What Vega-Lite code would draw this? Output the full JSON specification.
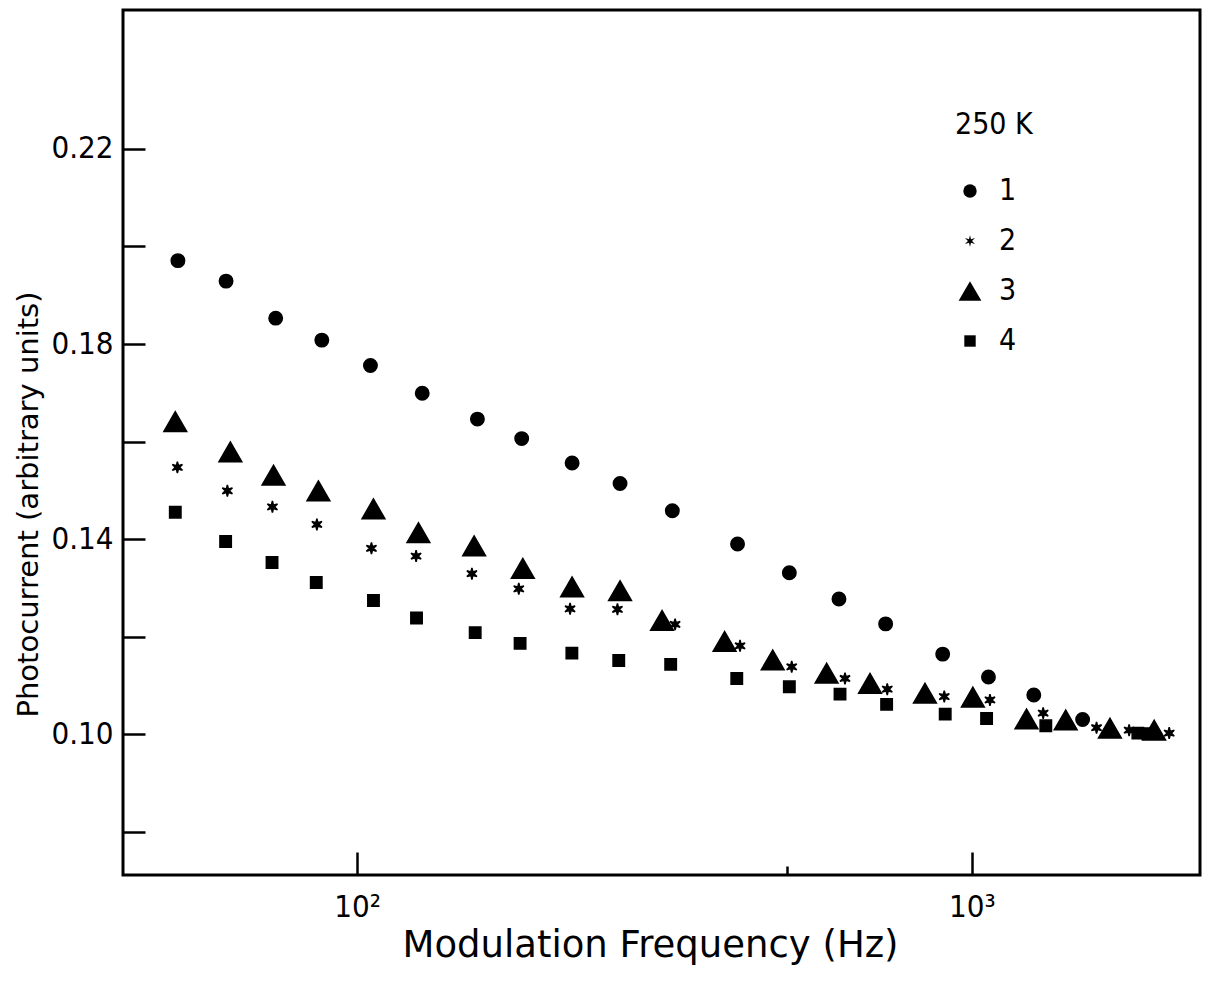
{
  "$schema": "https://vega.github.io/schema/vega-lite/v6.json",
  "autosize": "none",
  "padding": {"left": 123, "top": 10, "right": 12, "bottom": 116},
  "width": 1077,
  "height": 865,
  "background": "white",
  "config": {
    "view": {"stroke": "black", "strokeWidth": 3},
    "axis": {
      "domain": false,
      "grid": false,
      "tickColor": "black",
      "tickWidth": 2.5,
      "labelColor": "black",
      "labelFont": "DejaVu Sans Condensed, Liberation Sans Narrow, DejaVu Sans",
      "labelFontSize": 31,
      "titleColor": "black",
      "titleFont": "DejaVu Sans",
      "titleFontWeight": "normal"
    },
    "legend": {
      "orient": "none",
      "legendX": 832,
      "legendY": 100,
      "padding": 0,
      "titleFont": "DejaVu Sans Condensed, Liberation Sans Narrow, DejaVu Sans",
      "titleFontSize": 30,
      "titleFontWeight": "normal",
      "titleColor": "black",
      "titlePadding": 36,
      "labelFont": "DejaVu Sans Condensed, Liberation Sans Narrow, DejaVu Sans",
      "labelFontSize": 30,
      "labelColor": "black",
      "labelOffset": 14,
      "rowPadding": 20,
      "symbolFillColor": "black",
      "symbolStrokeColor": "black",
      "symbolStrokeWidth": 1.5
    }
  },
  "data": {
    "values": [
      {"f": 51.1, "v": 0.1971, "s": "1"},
      {"f": 61.2, "v": 0.1929, "s": "1"},
      {"f": 73.7, "v": 0.1853, "s": "1"},
      {"f": 87.6, "v": 0.1808, "s": "1"},
      {"f": 105.1, "v": 0.1756, "s": "1"},
      {"f": 127.6, "v": 0.1699, "s": "1"},
      {"f": 156.9, "v": 0.1646, "s": "1"},
      {"f": 185.2, "v": 0.1606, "s": "1"},
      {"f": 223.7, "v": 0.1556, "s": "1"},
      {"f": 267.7, "v": 0.1514, "s": "1"},
      {"f": 325.6, "v": 0.1458, "s": "1"},
      {"f": 415.7, "v": 0.1390, "s": "1"},
      {"f": 504.7, "v": 0.1331, "s": "1"},
      {"f": 607.8, "v": 0.1277, "s": "1"},
      {"f": 723.9, "v": 0.1226, "s": "1"},
      {"f": 896.4, "v": 0.1164, "s": "1"},
      {"f": 1064, "v": 0.1117, "s": "1"},
      {"f": 1261, "v": 0.1080, "s": "1"},
      {"f": 1514, "v": 0.1030, "s": "1"},
      {"f": 51.0, "v": 0.1547, "s": "2"},
      {"f": 61.5, "v": 0.1499, "s": "2"},
      {"f": 72.8, "v": 0.1466, "s": "2"},
      {"f": 86.0, "v": 0.1430, "s": "2"},
      {"f": 105.5, "v": 0.1381, "s": "2"},
      {"f": 124.7, "v": 0.1365, "s": "2"},
      {"f": 153.7, "v": 0.1329, "s": "2"},
      {"f": 183.2, "v": 0.1298, "s": "2"},
      {"f": 222.0, "v": 0.1257, "s": "2"},
      {"f": 265.1, "v": 0.1256, "s": "2"},
      {"f": 329.0, "v": 0.1225, "s": "2"},
      {"f": 419.6, "v": 0.1181, "s": "2"},
      {"f": 509.2, "v": 0.1138, "s": "2"},
      {"f": 621.7, "v": 0.1114, "s": "2"},
      {"f": 728.3, "v": 0.1092, "s": "2"},
      {"f": 901.7, "v": 0.1077, "s": "2"},
      {"f": 1070, "v": 0.1070, "s": "2"},
      {"f": 1306, "v": 0.1043, "s": "2"},
      {"f": 1595, "v": 0.1013, "s": "2"},
      {"f": 1802, "v": 0.1008, "s": "2"},
      {"f": 2094, "v": 0.1002, "s": "2"},
      {"f": 50.6, "v": 0.1641, "s": "3"},
      {"f": 62.2, "v": 0.1579, "s": "3"},
      {"f": 73.1, "v": 0.1531, "s": "3"},
      {"f": 86.5, "v": 0.1499, "s": "3"},
      {"f": 106.3, "v": 0.1462, "s": "3"},
      {"f": 125.8, "v": 0.1413, "s": "3"},
      {"f": 155.0, "v": 0.1386, "s": "3"},
      {"f": 186.0, "v": 0.1340, "s": "3"},
      {"f": 223.7, "v": 0.1302, "s": "3"},
      {"f": 267.7, "v": 0.1294, "s": "3"},
      {"f": 313.3, "v": 0.1233, "s": "3"},
      {"f": 396.0, "v": 0.1190, "s": "3"},
      {"f": 474.2, "v": 0.1152, "s": "3"},
      {"f": 580.3, "v": 0.1125, "s": "3"},
      {"f": 682.8, "v": 0.1104, "s": "3"},
      {"f": 838.8, "v": 0.1084, "s": "3"},
      {"f": 1003.7, "v": 0.1076, "s": "3"},
      {"f": 1227, "v": 0.1031, "s": "3"},
      {"f": 1421, "v": 0.1029, "s": "3"},
      {"f": 1677, "v": 0.1012, "s": "3"},
      {"f": 1979, "v": 0.1008, "s": "3"},
      {"f": 50.6, "v": 0.1455, "s": "4"},
      {"f": 61.1, "v": 0.1395, "s": "4"},
      {"f": 72.7, "v": 0.1352, "s": "4"},
      {"f": 85.8, "v": 0.1311, "s": "4"},
      {"f": 106.3, "v": 0.1274, "s": "4"},
      {"f": 124.9, "v": 0.1238, "s": "4"},
      {"f": 155.6, "v": 0.1208, "s": "4"},
      {"f": 184.1, "v": 0.1186, "s": "4"},
      {"f": 223.5, "v": 0.1166, "s": "4"},
      {"f": 266.4, "v": 0.1151, "s": "4"},
      {"f": 323.6, "v": 0.1143, "s": "4"},
      {"f": 414.5, "v": 0.1114, "s": "4"},
      {"f": 504.7, "v": 0.1097, "s": "4"},
      {"f": 610.2, "v": 0.1082, "s": "4"},
      {"f": 726.6, "v": 0.1061, "s": "4"},
      {"f": 904.9, "v": 0.1041, "s": "4"},
      {"f": 1056.6, "v": 0.1032, "s": "4"},
      {"f": 1319, "v": 0.1017, "s": "4"},
      {"f": 1862, "v": 0.1002, "s": "4"},
      {"f": 1933, "v": 0.1001, "s": "4"}
    ]
  },
  "mark": {"type": "point", "filled": true, "fill": "black", "stroke": "black", "strokeWidth": 1.5, "opacity": 1},
  "encoding": {
    "x": {
      "field": "f",
      "type": "quantitative",
      "scale": {"type": "log", "domain": [41.6, 2350], "nice": false},
      "axis": {
        "title": "Modulation Frequency (Hz)",
        "titleFontSize": 37,
        "titleX": 527,
        "titleY": 81,
        "titleAlign": "center",
        "titleBaseline": "alphabetic",
        "values": [100, 500, 1000],
        "labelExpr": "datum.value == 100 ? '10²' : (datum.value == 1000 ? '10³' : '')",
        "tickSize": {"condition": {"test": "datum.value == 500", "value": -9}, "value": -23},
        "labelPadding": 40
      }
    },
    "y": {
      "field": "v",
      "type": "quantitative",
      "scale": {"domain": [0.0711, 0.2485], "nice": false, "zero": false},
      "axis": {
        "title": "Photocurrent (arbitrary units)",
        "titleFontSize": 29,
        "titleX": -86,
        "titleY": 494,
        "titleAngle": -90,
        "titleAlign": "center",
        "titleBaseline": "alphabetic",
        "values": [0.08, 0.10, 0.12, 0.14, 0.16, 0.18, 0.20, 0.22],
        "labelExpr": "(round(datum.value * 100) % 4 == 2) ? format(datum.value, '.2f') : ''",
        "tickSize": -22,
        "labelPadding": 32
      }
    },
    "shape": {
      "field": "s",
      "type": "nominal",
      "scale": {"domain": ["1", "2", "3", "4"], "range": ["circle", "M0,-1L0.175,-0.303L0.866,-0.5L0.35,0L0.866,0.5L0.175,0.303L0,1L-0.175,0.303L-0.866,0.5L-0.35,0L-0.866,-0.5L-0.175,-0.303Z", "triangle-up", "square"]},
      "legend": {"title": "250 K"}
    },
    "size": {
      "field": "s",
      "type": "nominal",
      "scale": {"type": "ordinal", "domain": ["1", "2", "3", "4"], "range": [180, 135, 520, 130]},
      "legend": {"title": "250 K"}
    }
  }
}
